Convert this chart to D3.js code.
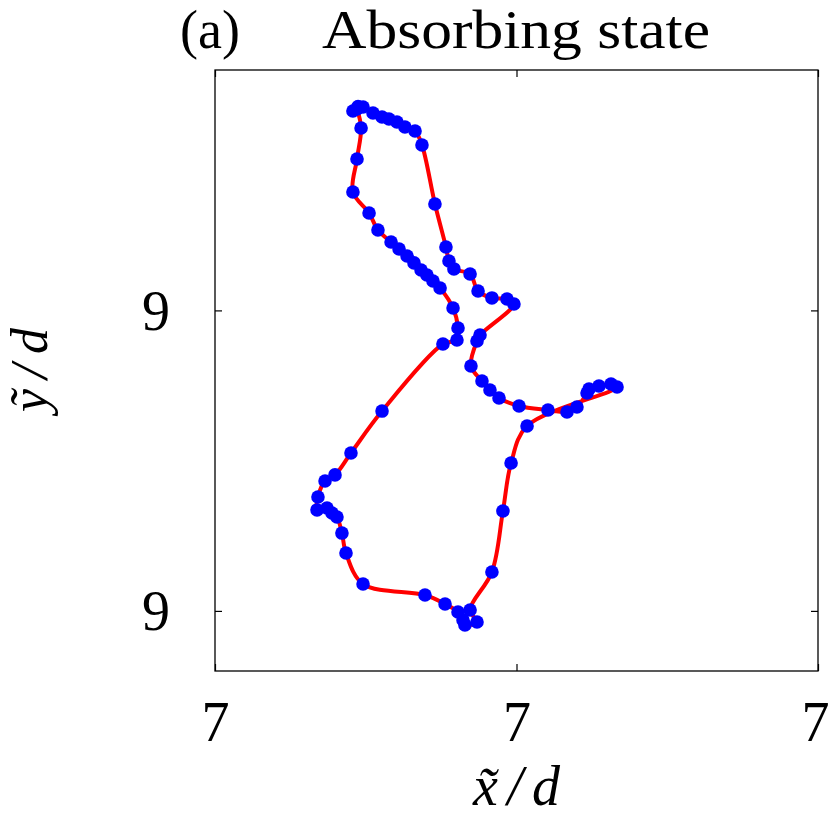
<!DOCTYPE html>
<html>
<head>
<meta charset="utf-8">
<script src="https://cdn.jsdelivr.net/npm/d3@7"></script>
<style>
  html, body { margin: 0; padding: 0; background: #fff; }
  svg { display: block; }
</style>
</head>
<body>
<svg id="chart" width="830" height="819"></svg>
<script>
// ---- data (trajectory in units of d) ----
const xVals = [6.8915, 6.8949, 6.8982, 6.9048, 6.9108, 6.9154, 6.9207, 6.9260, 6.9327, 6.9373,
  6.9459, 6.9532, 6.9552, 6.9585, 6.9692, 6.9745, 6.9837, 6.9937, 6.9983, 6.9758,
  6.9738, 6.9698, 6.9771, 6.9824, 6.9884, 7.0017, 7.0209, 7.0335, 7.0401, 7.0468,
  7.0481, 7.0547, 7.0627, 7.0667, 7.0070, 6.9964, 6.9910, 6.9837, 6.9692, 6.9738,
  6.9658, 6.9645, 6.9612, 6.9526, 6.9393, 6.8982, 6.8869, 6.8842, 6.8809, 6.8776,
  6.8743, 6.8677, 6.8683, 6.8730, 6.8796, 6.8902, 6.9108, 6.9512, 6.9605, 6.9612,
  6.9579, 6.9493, 6.9446, 6.9406, 6.9367, 6.9320, 6.9274, 6.9221, 6.9168, 6.9081,
  6.9022, 6.8915, 6.8942, 6.8969, 6.8942];
const yVals = [9.3327, 9.3357, 9.3354, 9.3314, 9.3287, 9.3274, 9.3254, 9.3221, 9.3194, 9.3101,
  9.2708, 9.2422, 9.2329, 9.2276, 9.2242, 9.2129, 9.2083, 9.2076, 9.2043, 9.1836,
  9.1796, 9.1630, 9.1530, 9.1470, 9.1417, 9.1364, 9.1337, 9.1324, 9.1357, 9.1450,
  9.1477, 9.1497, 9.1510, 9.1490, 9.1231, 9.0984, 9.0665, 9.0259, 9.0006, 8.9926,
  8.9906, 8.9939, 8.9993, 9.0046, 9.0106, 9.0179, 9.0385, 9.0518, 9.0625, 9.0652,
  9.0685, 9.0672, 9.0758, 9.0865, 9.0905, 9.1051, 9.1330, 9.1776, 9.1803, 9.1883,
  9.2016, 9.2149, 9.2196, 9.2236, 9.2269, 9.2316, 9.2362, 9.2409, 9.2455, 9.2535,
  9.2648, 9.2788, 9.3008, 9.3214, 9.3341];
const xTicks = [6.8, 7.0, 7.2];
const yTicks = [9.0, 9.2];
const xDomain = [6.8, 7.2];
const yDomain = [8.96, 9.36];
const titleText = "Absorbing state";
const panelLabel = "(a)";

// ---- layout ----
const L = 215, R = 818, T = 70, B = 671;
const svg = d3.select("#chart");
const x = d3.scaleLinear().domain(xDomain).range([L, R]);
const y = d3.scaleLinear().domain(yDomain).range([B, T]);
const fmt = d3.format(".0f");
const serif = "'Liberation Serif', 'Times New Roman', serif";

// frame
svg.append("rect").attr("x", L).attr("y", T).attr("width", R - L).attr("height", B - T)
  .attr("fill", "none").attr("stroke", "#000").attr("stroke-width", 1.3);

// axes with inward ticks
const tk = 7;
const gb = svg.append("g").attr("transform", `translate(0,${B})`)
  .call(d3.axisBottom(x).tickValues(xTicks).tickSize(-tk).tickPadding(30).tickFormat(fmt));
const gt = svg.append("g").attr("transform", `translate(0,${T})`)
  .call(d3.axisTop(x).tickValues(xTicks).tickSize(-tk).tickFormat(""));
const gl = svg.append("g").attr("transform", `translate(${L},0)`)
  .call(d3.axisLeft(y).tickValues(yTicks).tickSize(-tk).tickPadding(45).tickFormat(fmt));
const gr = svg.append("g").attr("transform", `translate(${R},0)`)
  .call(d3.axisRight(y).tickValues(yTicks).tickSize(-tk).tickFormat(""));
[gb, gt, gl, gr].forEach(g => {
  g.select(".domain").remove();
  g.selectAll(".tick line").attr("stroke", "#000").attr("stroke-width", 1.2);
});
gb.selectAll(".tick text").attr("font-family", serif).attr("font-size", 56).attr("fill", "#000")
  .attr("dy", "0.71em")
  .attr("dx", (d, i, n) => i === n.length - 1 ? -3 : 0);
gl.selectAll(".tick text").attr("font-family", serif).attr("font-size", 56).attr("fill", "#000")
  .attr("dy", "0.34em");

// trajectory line
const pts = xVals.map((v, i) => [v, yVals[i]]);
const line = d3.line().x(d => x(d[0])).y(d => y(d[1])).curve(d3.curveCatmullRom.alpha(0.5));
svg.append("path").datum(pts).attr("d", line)
  .attr("fill", "none").attr("stroke", "#ff0000").attr("stroke-width", 4)
  .attr("stroke-linejoin", "round").attr("stroke-linecap", "round");

// markers
svg.append("g").selectAll("circle").data(pts).join("circle")
  .attr("cx", d => x(d[0])).attr("cy", d => y(d[1])).attr("r", 6.8)
  .attr("fill", "#0000ff");

// title
svg.append("text").attr("x", 180).attr("y", 48).attr("font-family", serif)
  .attr("font-size", 54).attr("fill", "#000").text(panelLabel);
svg.append("text").attr("x", 322).attr("y", 48).attr("font-family", serif)
  .attr("font-size", 54).attr("fill", "#000")
  .attr("textLength", 388).attr("lengthAdjust", "spacingAndGlyphs").text(titleText);

// axis labels
svg.append("text").attr("x", 473).attr("y", 805)
  .attr("font-family", serif).attr("font-style", "italic").attr("font-size", 56).attr("fill", "#000")
  .attr("textLength", 87).attr("lengthAdjust", "spacing")
  .text("x\u0303/d");
svg.append("text").attr("transform", `translate(47,412) rotate(-90)`)
  .attr("font-family", serif).attr("font-style", "italic").attr("font-size", 52).attr("fill", "#000")
  .attr("textLength", 84).attr("lengthAdjust", "spacing")
  .text("\u1EF9/d");
</script>
</body>
</html>
